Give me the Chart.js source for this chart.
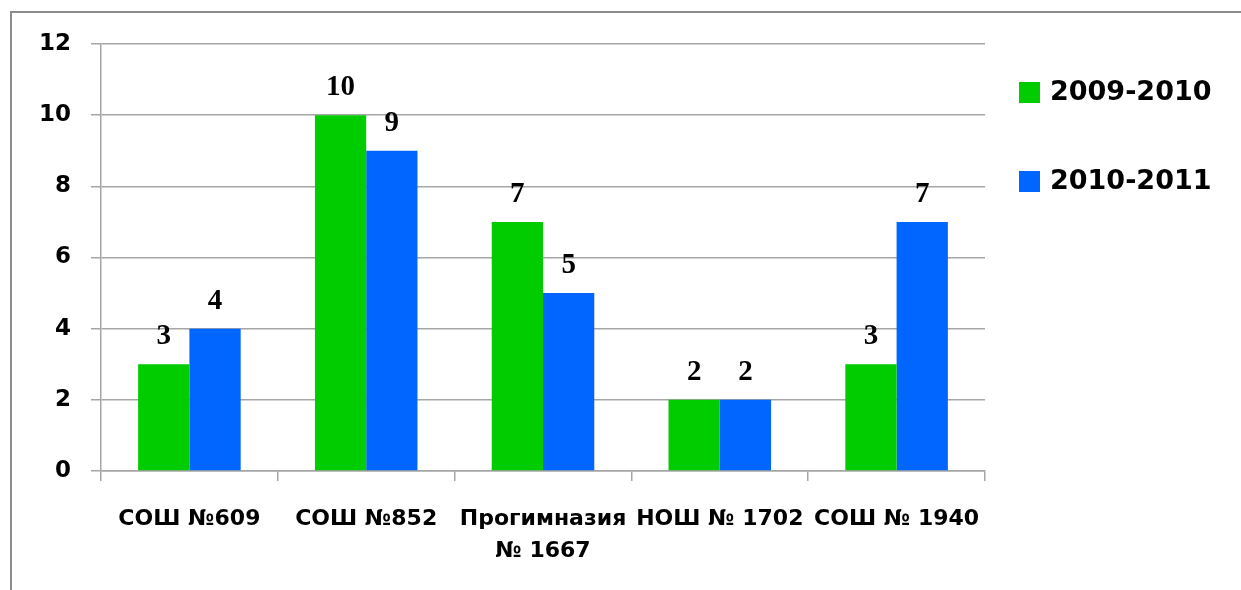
<!DOCTYPE html>
<html>
<head>
<meta charset="utf-8">
<script src="https://cdn.jsdelivr.net/npm/chart.js@4.4.0/dist/chart.umd.min.js"></script>
<style>
  html, body { margin: 0; padding: 0; background: #fff; }
  #wrap { position: relative; width: 1241px; height: 590px; overflow: hidden; }
  /* рамка вокруг диаграммы */
  #frame { position: absolute; left: 10px; top: 11px; width: 1300px; height: 700px;
           border-left: 2px solid #8c8c8c; border-top: 2px solid #8c8c8c; }
  canvas { position: absolute; left: 0; top: 0; }
</style>
</head>
<body>
<div id="wrap">
  <div id="frame"></div>
  <canvas id="myChart" width="1241" height="590"></canvas>
</div>
<script>
// данные
const schools = ["СОШ №609", "СОШ №852", ["Прогимназия", "№ 1667"], "НОШ № 1702", "СОШ № 1940"];
const years = ["2009-2010", "2010-2011"];
const values0910 = [3, 10, 7, 2, 3];
const values1011 = [4, 9, 5, 2, 7];
const colors = ["#00cc00", "#0066ff"];

// подписи над столбцами
const valueLabels = {
  id: "valueLabels",
  afterDatasetsDraw(chart) {
    const ctx = chart.ctx;
    ctx.save();
    ctx.font = "bold 29px 'Liberation Serif'";
    ctx.fillStyle = "#000";
    ctx.textAlign = "center";
    ctx.textBaseline = "alphabetic";
    chart.data.datasets.forEach((ds, i) => {
      chart.getDatasetMeta(i).data.forEach((bar, j) => {
        ctx.fillText(ds.data[j], bar.x, bar.y - 20);
      });
    });
    ctx.restore();
  }
};

// легенда справа
const sideLegend = {
  id: "sideLegend",
  afterDraw(chart) {
    const ctx = chart.ctx;
    const area = chart.chartArea;
    ctx.save();
    ctx.font = "bold 27px 'DejaVu Sans'";
    ctx.textBaseline = "middle";
    chart.data.datasets.forEach((ds, i) => {
      const y = area.top + 48 + i * 89;
      ctx.fillStyle = ds.backgroundColor;
      ctx.fillRect(area.right + 34, y - 10, 21, 21);
      ctx.fillStyle = "#000";
      ctx.fillText(ds.label, area.right + 65, y + 1);
    });
    ctx.restore();
  }
};

new Chart(document.getElementById("myChart"), {
  type: "bar",
  data: {
    labels: schools,
    datasets: [
      { label: years[0], data: values0910, backgroundColor: colors[0] },
      { label: years[1], data: values1011, backgroundColor: colors[1] }
    ]
  },
  options: {
    responsive: false,
    animation: false,
    layout: { padding: { top: 44, right: 256, left: 0, bottom: 0 } },
    datasets: { bar: { categoryPercentage: 0.58, barPercentage: 1 } },
    plugins: { legend: { display: false }, tooltip: { enabled: false } },
    scales: {
      x: {
        grid: { drawOnChartArea: false, drawTicks: true, tickLength: 10, color: "#a6a6a6", lineWidth: 1.5 },
        border: { color: "#a6a6a6", width: 1.5 },
        ticks: { color: "#000", padding: 22, maxRotation: 0, autoSkip: false,
                 font: { family: "DejaVu Sans", weight: "bold", size: 22, lineHeight: 1.45 } },
        afterFit(scale) { scale.height = 119; }
      },
      y: {
        min: 0, max: 12,
        grid: { color: "#a6a6a6", lineWidth: 1.5, tickLength: 10 },
        border: { color: "#a6a6a6", width: 1.5 },
        ticks: { stepSize: 2, color: "#000", padding: 20,
                 font: { family: "DejaVu Sans", weight: "bold", size: 23 } },
        afterFit(scale) { scale.width = 101; }
      }
    }
  },
  plugins: [valueLabels, sideLegend]
});
</script>
</body>
</html>
